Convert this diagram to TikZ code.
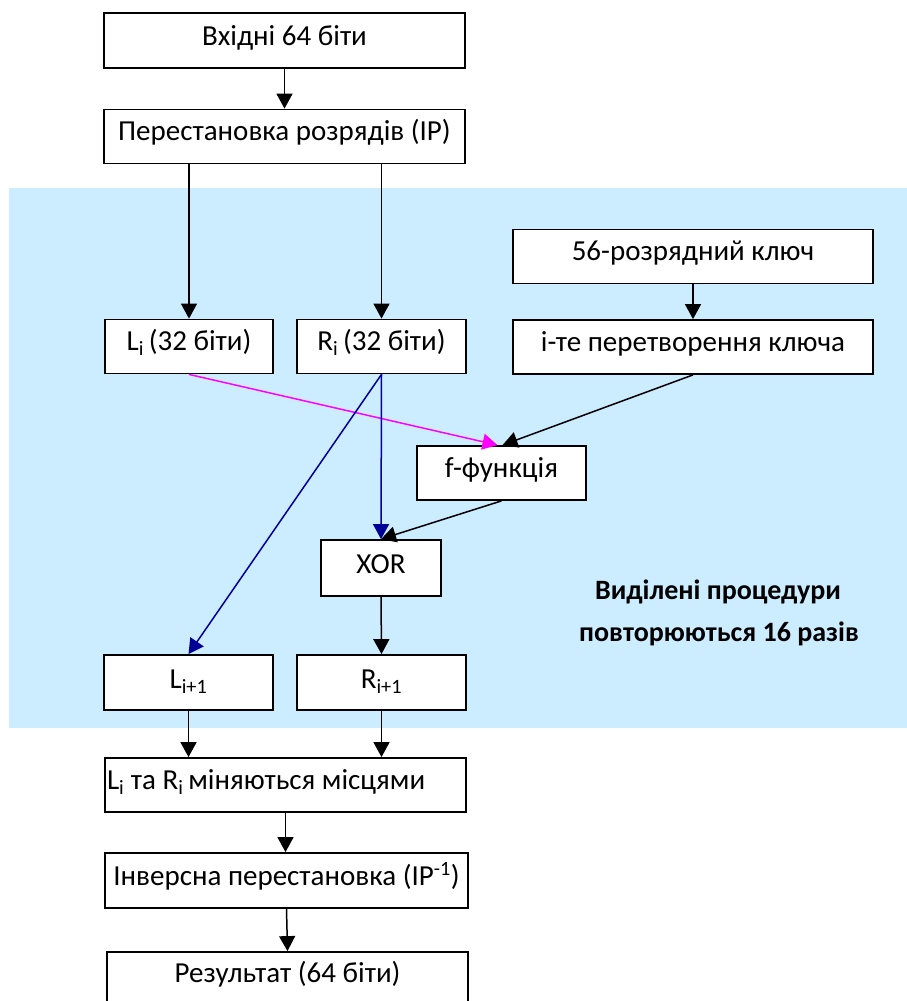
\documentclass[tikz,border=0pt]{standalone}
\usepackage{fontspec}
\setmainfont{Carlito}
\usetikzlibrary{arrows.meta,calc}
\definecolor{roundbg}{HTML}{CCECFF}
\definecolor{navyline}{HTML}{000099}
\definecolor{pinkline}{HTML}{FF00FF}
\begin{document}
\begin{tikzpicture}[x=1pt,y=-1pt,
  stepbox/.style={draw=black,line width=1.8pt,fill=white,inner sep=0pt,
    minimum height=54pt,text height=31pt,text depth=23pt,
    font=\fontsize{29}{34}\selectfont},
  link/.style={line width=1.5pt,-{Triangle[length=15pt,width=16pt]}},
  note/.style={font=\fontsize{28}{33}\selectfont\bfseries,anchor=base}]
\clip (0,0) rectangle (907,1001);
\useasboundingbox (0,0) rectangle (907,1001);
% repeated round area
\fill[roundbg] (9,188) rectangle (907,728);

% boxes
\node[stepbox,minimum width=361pt,minimum height=55pt,text height=32pt] (in)  at (284.5,40.5) {Вхідні 64 біти};
\node[stepbox,minimum width=361pt,minimum height=53pt] (ip) at (284.5,136.5) {Перестановка розрядів (IP)};
\node[stepbox,minimum width=168pt,minimum height=53pt] (L) at (189,346.5) {L\textsubscript{i}\,(32 біти)};
\node[stepbox,minimum width=169pt,minimum height=53pt] (R) at (381.5,346.5) {R\textsubscript{i}\,(32 біти)};
\node[stepbox,minimum width=360pt,minimum height=53pt] (key) at (693,256.5) {56-розрядний ключ};
\node[stepbox,minimum width=360pt] (kt) at (693,347) {і-те перетворення ключа};
\node[stepbox,minimum width=169pt] (f) at (501.5,473) {f-функція};
\node[stepbox,minimum width=120pt,minimum height=56pt,text height=33pt,text depth=23pt] (xor) at (381,568) {XOR};
\node[stepbox,minimum width=169pt,minimum height=55pt,text height=33pt,text depth=22pt] (L1) at (188.5,682.5) {L\textsubscript{i+1}};
\node[stepbox,minimum width=169pt,minimum height=55pt,text height=33pt,text depth=22pt] (R1) at (381.5,682.5) {R\textsubscript{i+1}};
\node[stepbox,minimum width=361pt,text width=357pt,align=flush left] (sw) at (285.5,785) {L\textsubscript{i} та R\textsubscript{i}\,міняються місцями};
\node[stepbox,minimum width=363pt,minimum height=55pt,text height=32pt,text depth=23pt] (ipinv) at (286.5,880.5) {Інверсна перестановка (IP\textsuperscript{-1})};
\node[stepbox,minimum width=361pt,minimum height=58pt,text height=30pt,text depth=28pt] (res) at (287.5,981) {Результат (64 біти)};

% note
\node[note] (n1) at (718,599) {Виділені процедури};
\node[note] (n2) at (719,641) {повторюються 16 разів};

% connectors
\draw[link] (in.south) -- (ip.north);
\draw[link] (ip.south -| L.north) -- (L.north);
\draw[link] (ip.south -| R.north) -- (R.north);
\draw[link] (key.south) -- (kt.north);
\draw[link,pinkline] (L.south) -- ($(f.north)+(-4,0)$);
\draw[link] (kt.south) -- ($(f.north)+(1,0)$);
\draw[link,navyline] (R.south) -- (xor.north);
\draw[link] (f.south) -- (xor.north);
\draw[link,navyline] (R.south) -- (L1.north);
\draw[link] (xor.south) -- (R1.north);
\draw[link] (L1.south) -- (L1.south |- sw.north);
\draw[link] (R1.south) -- (R1.south |- sw.north);
\draw[link] (sw.south) -- (sw.south |- ipinv.north);
\draw[link] (ipinv.south) -- (res.north);
\end{tikzpicture}
\end{document}
